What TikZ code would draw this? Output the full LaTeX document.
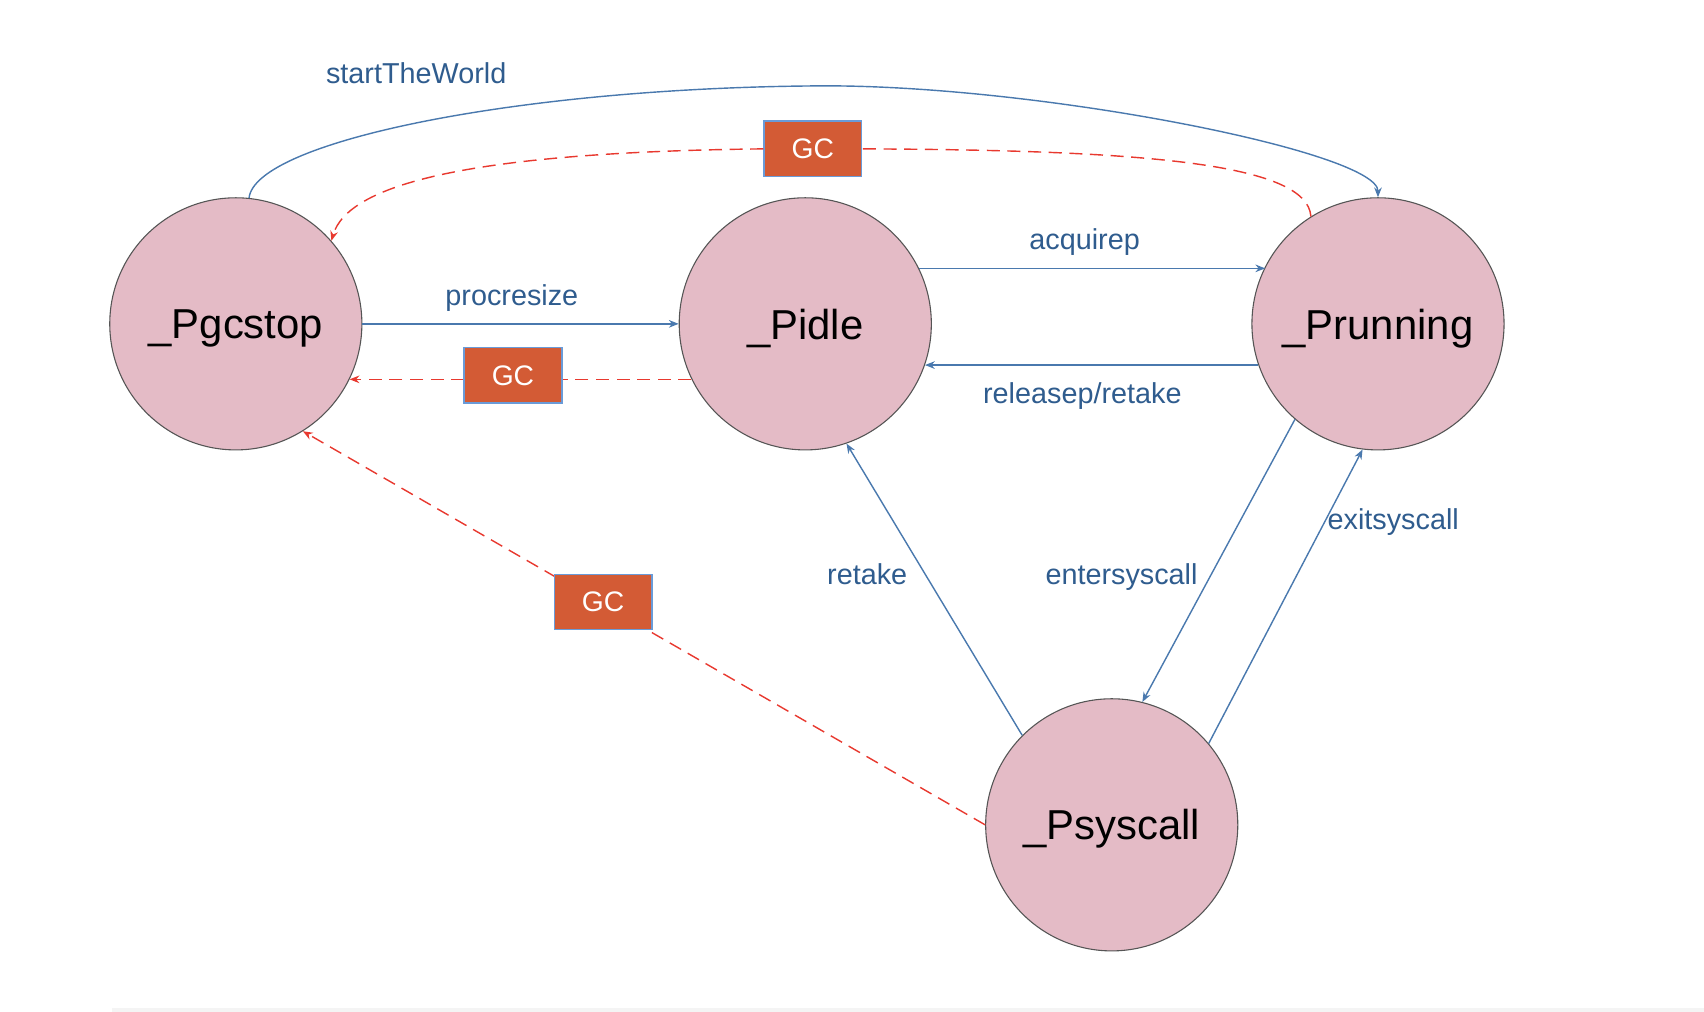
\documentclass[tikz,border=0pt]{standalone}
\usepackage{fontspec}
\setmainfont{Liberation Sans}
\usetikzlibrary{arrows.meta}
\definecolor{statefill}{HTML}{E4BBC6}
\definecolor{stateedge}{HTML}{555555}
\definecolor{bluearc}{HTML}{4A79AE}
\definecolor{bluetext}{HTML}{2F5C8E}
\definecolor{redarc}{HTML}{E8392F}
\definecolor{gcfill}{HTML}{D35B35}
\definecolor{gcedge}{HTML}{6A9BD8}
\definecolor{stripgray}{HTML}{F4F4F4}
\tikzset{
  state/.style={circle, draw=stateedge, line width=1pt, fill=statefill, minimum size=232pt, inner sep=0pt, text depth=0pt, font=\fontsize{38.5}{44}\selectfont},
  trans/.style={draw=bluearc, line width=1.3pt, -{Stealth[length=9pt,width=7pt]}},
  gcline/.style={draw=redarc, line width=1.3pt, dash pattern=on 12pt off 7pt, -{Stealth[length=9pt,width=7pt]}},
  gcplain/.style={draw=redarc, line width=1.3pt, dash pattern=on 12pt off 7pt},
  gcbox/.style={draw=gcedge, line width=1.3pt, fill=gcfill, text=white, minimum width=90pt, minimum height=51pt, inner sep=0pt, text depth=0pt, font=\fontsize{26}{30}\selectfont, solid},
  lbl/.style={text=bluetext, font=\fontsize{26.5}{30}\selectfont, inner sep=0pt, anchor=base}
}
\begin{document}
\begin{tikzpicture}[x=1pt,y=-1pt]
\useasboundingbox (0,0) rectangle (1568,931);
\fill[stripgray] (103,927.5) rectangle (1568,931);

\node[state] (pgc) at (217,298) {\_Pgcstop};
\node[state] (pidle) at (741,298) {\_Pidle};
\node[state] (prun) at (1268,298) {\_Prunning};
\node[state] (psys) at (1023,759) {\_Psyscall};

% startTheWorld
\draw[trans] (pgc.84) .. controls (235,130) and (480,80) .. (760,79)
  .. controls (960,79) and (1268,140) .. (prun.90);
\node[lbl] (lstw) at (383,77) {startTheWorld};

% GC top
\node[gcbox] (gc1) at (748,137) {GC};
\draw[gcplain] (prun.122) .. controls (1203,150) and (1050,138) .. (gc1.east);
\draw[gcline] (gc1.west) .. controls (430,140) and (320,170) .. (pgc.41.6);

% procresize
\draw[trans] (pgc.0) -- (pidle.180);
\node[lbl] (lproc) at (471,281) {procresize};

% GC middle
\draw[gcline] (pidle.206.6) -- (pidle.206.6 -| pgc.-26.6);
\node[gcbox] (gc2) at (472,345.5) {GC};

% acquirep / releasep
\draw[trans] (pidle.26.6) -- (pidle.26.6 -| prun.153.4);
\node[lbl] (lacq) at (998,230) {acquirep};
\draw[trans] (prun.199.1) -- (prun.199.1 -| pidle.-19.1);
\node[lbl] (lrel) at (996,371) {releasep/retake};

% retake
\draw[trans] (psys.135) -- (pidle.-71.9);
\node[lbl] (lret) at (798,538) {retake};

% entersyscall
\draw[trans] (prun.229) -- (psys.76.7);
\node[lbl] (lent) at (1032,538) {entersyscall};

% exitsyscall
\draw[trans] (psys.40.2) -- (prun.-97);
\node[lbl] (lexit) at (1282,487) {exitsyscall};

% GC bottom
\draw[gcline] (psys.180) -- (pgc.-58.1);
\node[gcbox] (gc3) at (555,554) {GC};
\end{tikzpicture}
\end{document}
